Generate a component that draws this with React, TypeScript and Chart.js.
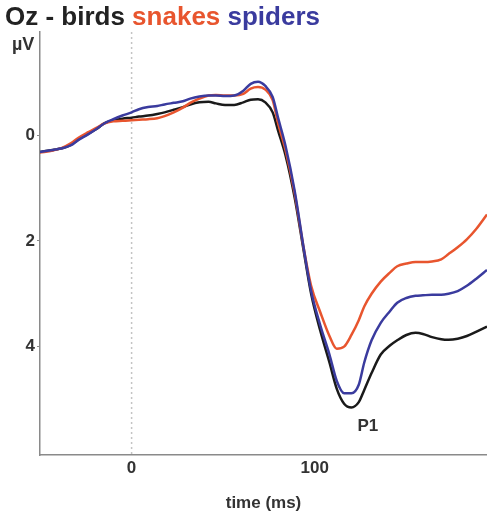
import React, { useEffect, useRef } from "react";
import { Chart, registerables } from "chart.js";

Chart.register(...registerables);

const times = [-50, -43, -38, -33, -29, -24, -19, -15, -10, -5, 0, 4, 9, 14, 18, 23, 28, 32, 37, 42, 46, 51, 56, 61, 65, 69, 73, 77, 80, 84, 89, 94, 98, 103, 108, 112, 116, 120, 124, 127, 131, 136, 141, 145, 150, 155, 159, 164, 169, 173, 178, 183, 188, 194];

const birds = [0.32, 0.28, 0.25, 0.18, 0.08, -0.02, -0.12, -0.22, -0.28, -0.31, -0.33, -0.35, -0.37, -0.4, -0.43, -0.48, -0.53, -0.58, -0.62, -0.63, -0.6, -0.57, -0.57, -0.62, -0.67, -0.68, -0.62, -0.43, -0.08, 0.38, 1.18, 2.2, 3.0, 3.7, 4.3, 4.8, 5.08, 5.15, 5.05, 4.82, 4.5, 4.15, 3.98, 3.88, 3.78, 3.74, 3.76, 3.82, 3.86, 3.87, 3.85, 3.8, 3.72, 3.62];

const snakes = [0.33, 0.29, 0.24, 0.15, 0.05, -0.05, -0.14, -0.22, -0.26, -0.27, -0.28, -0.29, -0.3, -0.32, -0.36, -0.43, -0.52, -0.61, -0.69, -0.75, -0.76, -0.75, -0.75, -0.78, -0.88, -0.91, -0.86, -0.66, -0.22, 0.28, 1.1, 2.15, 2.85, 3.35, 3.8, 4.04, 4.0, 3.78, 3.5, 3.24, 3.0, 2.77, 2.6, 2.48, 2.43, 2.4, 2.4, 2.39, 2.35, 2.25, 2.12, 1.97, 1.78, 1.5];

const spiders = [0.32, 0.28, 0.25, 0.19, 0.09, -0.01, -0.12, -0.22, -0.3, -0.37, -0.43, -0.49, -0.53, -0.55, -0.58, -0.61, -0.64, -0.69, -0.73, -0.75, -0.75, -0.74, -0.75, -0.84, -0.97, -1.01, -0.93, -0.72, -0.32, 0.2, 1.05, 2.15, 2.95, 3.6, 4.15, 4.65, 4.88, 4.88, 4.72, 4.3, 3.88, 3.55, 3.33, 3.17, 3.08, 3.04, 3.03, 3.02, 3.02, 3.0, 2.95, 2.85, 2.72, 2.55];

const xTickValues = [0, 100];
const yTickValues = [0, 2, 4];

const titleParts = [
  { text: "Oz - birds ", color: "#222222" },
  { text: "snakes ", color: "#e8552e" },
  { text: "spiders", color: "#3a3b9e" },
];
const unitLabel = "µV";
const peakLabel = { text: "P1", x: 129, y: 5.5 };

const FAMILY = "'Liberation Sans', Arial, sans-serif";

const decor = {
  id: "decor",
  beforeDatasetsDraw(chart: any) {
    const { ctx, chartArea, scales } = chart;
    const x0 = scales.x.getPixelForValue(0);
    ctx.save();
    ctx.strokeStyle = "#c4c4c4";
    ctx.lineWidth = 1.5;
    ctx.setLineDash([2, 3]);
    ctx.beginPath();
    ctx.moveTo(x0, chartArea.top);
    ctx.lineTo(x0, chartArea.bottom);
    ctx.stroke();
    ctx.restore();
  },
  afterDraw(chart: any) {
    const { ctx, scales } = chart;
    ctx.save();
    ctx.textBaseline = "alphabetic";
    ctx.textAlign = "left";
    ctx.font = `bold 26px ${FAMILY}`;
    let x = 5;
    for (const p of titleParts) {
      ctx.fillStyle = p.color;
      ctx.fillText(p.text, x, 25);
      x += ctx.measureText(p.text).width;
    }
    ctx.font = `bold 18px ${FAMILY}`;
    ctx.fillStyle = "#333";
    ctx.fillText(unitLabel, 12, 50);
    ctx.font = `bold 17px ${FAMILY}`;
    ctx.textAlign = "center";
    ctx.textBaseline = "middle";
    ctx.fillText(
      peakLabel.text,
      scales.x.getPixelForValue(peakLabel.x),
      scales.y.getPixelForValue(peakLabel.y)
    );
    ctx.restore();
  },
};

export default function App() {
  const ref = useRef<HTMLCanvasElement>(null);
  useEffect(() => {
    if (!ref.current) return;
    const mk = (label: string, data: number[], color: string) => ({
      label,
      data: times.map((t, i) => ({ x: t, y: data[i] })),
      borderColor: color,
      backgroundColor: color,
      borderWidth: 2.5,
      pointRadius: 0,
      cubicInterpolationMode: "monotone" as const,
      fill: false,
    });
    const chart = new Chart(ref.current, {
      type: "line",
      data: {
        datasets: [
          mk("spiders", spiders, "#3a3b9e"),
          mk("snakes", snakes, "#e8552e"),
          mk("birds", birds, "#1a1a1a"),
        ],
      },
      options: {
        responsive: false,
        animation: false,
        layout: { padding: { top: 32, left: 0, right: 0, bottom: 0 } },
        plugins: { legend: { display: false }, tooltip: { enabled: false }, title: { display: false } },
        scales: {
          x: {
            type: "linear",
            min: -50,
            max: 194,
            afterBuildTicks: (s: any) => {
              s.ticks = xTickValues.map((v) => ({ value: v }));
            },
            afterFit: (s: any) => {
              s.height = 64;
            },
            grid: { drawOnChartArea: false, drawTicks: false },
            border: { color: "#8a8a8a", width: 1.5 },
            ticks: {
              padding: 3,
              maxRotation: 0,
              autoSkip: false,
              color: "#333",
              font: { size: 17, weight: "bold", family: FAMILY },
            },
            title: {
              display: true,
              text: "time (ms)",
              color: "#333",
              font: { size: 17, weight: "bold", family: FAMILY },
              padding: { top: 0, bottom: 5 },
            },
          },
          y: {
            type: "linear",
            reverse: true,
            min: -1.95,
            max: 6.05,
            afterBuildTicks: (s: any) => {
              s.ticks = yTickValues.map((v) => ({ value: v }));
            },
            afterFit: (s: any) => {
              s.width = 40;
            },
            grid: { drawOnChartArea: false, drawTicks: true, tickLength: 3, color: "#8a8a8a" },
            border: { color: "#8a8a8a", width: 1.5 },
            ticks: {
              padding: 2,
              color: "#333",
              font: { size: 17, weight: "bold", family: FAMILY },
            },
          },
        },
      },
      plugins: [decor],
    } as any);
    return () => chart.destroy();
  }, []);
  return (
    <div style={{ position: "fixed", left: 0, top: 0, width: 487, height: 519, background: "#fff" }}>
      <canvas ref={ref} width={487} height={519} style={{ width: 487, height: 519, display: "block" }} />
    </div>
  );
}
